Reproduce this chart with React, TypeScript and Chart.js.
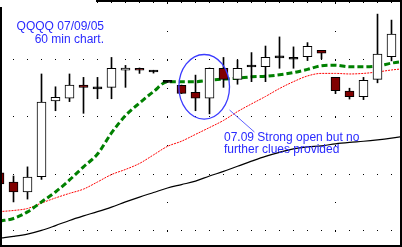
import React, { useEffect, useRef } from "react";
import { Chart, registerables } from "chart.js";

Chart.register(...registerables);

// ---------- data ----------
const BAR_INDEX = [0, 1, 2, 3, 4, 5, 6, 7, 8, 9, 10, 11, 12, 13, 14, 15, 16, 17, 18, 19, 20, 21, 22, 23, 24, 25, 26, 27, 28];
const OPEN = [38.804, 38.772, 38.737, 38.791, 39.056, 39.066, 39.112, 39.102, 39.104, 39.164, 39.171, 39.164, 39.125, 39.111, 39.087, 39.066, 39.171, 39.132, 39.179, 39.177, 39.211, 39.206, 39.212, 39.234, 39.139, 39.091, 39.071, 39.132, 39.212];
const HIGH = [38.811, 38.793, 38.825, 39.151, 39.106, 39.151, 39.139, 39.139, 39.209, 39.181, 39.172, 39.164, 39.126, 39.112, 39.147, 39.172, 39.209, 39.200, 39.226, 39.249, 39.281, 39.246, 39.261, 39.234, 39.139, 39.101, 39.139, 39.361, 39.340];
const LOW = [38.758, 38.702, 38.712, 38.781, 39.022, 39.054, 39.013, 39.064, 39.064, 39.104, 39.153, 39.154, 39.121, 39.082, 39.022, 39.011, 39.104, 39.115, 39.124, 39.124, 39.171, 39.171, 39.198, 39.204, 39.082, 39.063, 39.061, 39.120, 39.197];
const CLOSE = [38.765, 38.737, 38.789, 39.052, 39.069, 39.112, 39.104, 39.102, 39.171, 39.172, 39.164, 39.159, 39.125, 39.083, 39.066, 39.171, 39.132, 39.171, 39.179, 39.209, 39.211, 39.206, 39.248, 39.224, 39.092, 39.071, 39.129, 39.221, 39.291];

const MA_INDEX = [0, 1, 2, 3, 4, 5, 6, 7, 8, 9, 10, 11, 12, 13, 14, 15, 16, 17, 18, 19, 20, 21, 22, 23, 24, 25, 26, 27, 28, 29];
const MA_FAST = [38.635, 38.644, 38.667, 38.702, 38.737, 38.779, 38.825, 38.870, 38.944, 39.005, 39.049, 39.089, 39.124, 39.124, 39.124, 39.129, 39.133, 39.136, 39.141, 39.143, 39.148, 39.156, 39.167, 39.180, 39.182, 39.176, 39.176, 39.179, 39.189, 39.196];
const MA_MID = [38.668, 38.672, 38.679, 38.698, 38.716, 38.732, 38.747, 38.772, 38.798, 38.816, 38.837, 38.867, 38.897, 38.915, 38.939, 38.963, 38.988, 39.019, 39.046, 39.072, 39.100, 39.124, 39.144, 39.153, 39.153, 39.151, 39.153, 39.158, 39.165, 39.170];
const MA_SLOW = [38.575, 38.581, 38.589, 38.602, 38.619, 38.637, 38.653, 38.668, 38.684, 38.702, 38.719, 38.735, 38.751, 38.763, 38.775, 38.793, 38.809, 38.827, 38.845, 38.862, 38.876, 38.888, 38.895, 38.899, 38.906, 38.911, 38.915, 38.920, 38.926, 38.933];

const GRID_PRICES = [38.6, 38.8, 39.0, 39.2, 39.4];
const SESSION_BREAKS = [12, 24];

const TITLE_LINES = ["QQQQ 07/09/05", "60 min chart."];
const NOTE_LINES = ["07.09 Strong open but no", "further clues provided"];

// annotation geometry in data units (index, price)
const ELLIPSE_CENTER = [14.62, 39.106];
const ELLIPSE_RADII = [1.81, 0.1133];
const POINTER_FROM = [16.43, 39.0245];
const POINTER_TO = [18.21, 38.9473];

// ---------- view ----------
const X_MIN = 2.5 / 14;
const X_MAX = 2.5 / 14 + 398 / 14;
const Y_MAX = 39.4 + 0.2 / 57;
const Y_MIN = 39.4 - (242 * 0.2) / 57;
const PX_PER_PRICE = 57 / 0.2;

const TEXT_BLUE = "#2a2aff";

const annotationPlugin = {
  id: "noteMarks",
  afterDraw(chart: any) {
    const { ctx } = chart;
    const xs = chart.scales.x;
    const ys = chart.scales.y;
    ctx.save();
    const cx = xs.getPixelForValue(ELLIPSE_CENTER[0]);
    const cy = ys.getPixelForValue(ELLIPSE_CENTER[1]);
    const rx = Math.abs(xs.getPixelForValue(ELLIPSE_CENTER[0] + ELLIPSE_RADII[0]) - cx);
    const ry = Math.abs(ys.getPixelForValue(ELLIPSE_CENTER[1] + ELLIPSE_RADII[1]) - cy);
    ctx.beginPath();
    ctx.ellipse(cx, cy, rx, ry, 0, 0, Math.PI * 2);
    ctx.strokeStyle = "#3c3cff";
    ctx.lineWidth = 1.3;
    ctx.stroke();
    ctx.beginPath();
    ctx.moveTo(xs.getPixelForValue(POINTER_FROM[0]), ys.getPixelForValue(POINTER_FROM[1]));
    ctx.lineTo(xs.getPixelForValue(POINTER_TO[0]), ys.getPixelForValue(POINTER_TO[1]));
    ctx.strokeStyle = "#6060ff";
    ctx.lineWidth = 1;
    ctx.stroke();
    ctx.restore();
  },
};

export default function App() {
  const ref = useRef<HTMLCanvasElement>(null);

  useEffect(() => {
    const canvas = ref.current;
    if (!canvas) return;

    const dojiHalf = 1 / PX_PER_PRICE;
    const bodies = BAR_INDEX.map((x, i) => {
      const o = OPEN[i];
      const c = CLOSE[i];
      if (Math.abs(o - c) * PX_PER_PRICE < 1.5) {
        const m = (o + c) / 2;
        return { x, y: [m - dojiHalf, m + dojiHalf] };
      }
      return { x, y: [o, c] };
    });
    const bodyColors = BAR_INDEX.map((_, i) => {
      const o = OPEN[i];
      const c = CLOSE[i];
      if (Math.abs(o - c) * PX_PER_PRICE < 1.5) return "#000000";
      return c > o ? "#ffffff" : "#800000";
    });
    const wicks = BAR_INDEX.map((x, i) => ({ x, y: [LOW[i], HIGH[i]] }));

    const chart = new Chart(canvas, {
      type: "bar",
      data: {
        datasets: [
          {
            type: "bar",
            data: bodies as any,
            backgroundColor: bodyColors,
            borderColor: "#000000",
            borderWidth: 1,
            borderSkipped: false,
            barThickness: 9,
            maxBarThickness: 9,
            grouped: false,
            order: 1,
          } as any,
          {
            type: "bar",
            data: wicks as any,
            backgroundColor: "#000000",
            borderWidth: 0,
            barThickness: 1,
            maxBarThickness: 1,
            grouped: false,
            order: 2,
          } as any,
          {
            type: "line",
            data: MA_INDEX.map((x, i) => ({ x, y: MA_FAST[i] })),
            borderColor: "#008000",
            borderWidth: 3,
            borderDash: [6, 3],
            pointRadius: 0,
            cubicInterpolationMode: "monotone",
            order: 3,
          } as any,
          {
            type: "line",
            data: MA_INDEX.map((x, i) => ({ x, y: MA_MID[i] })),
            borderColor: "#ff0000",
            borderWidth: 1,
            borderDash: [2, 1],
            pointRadius: 0,
            cubicInterpolationMode: "monotone",
            order: 4,
          } as any,
          {
            type: "line",
            data: MA_INDEX.map((x, i) => ({ x, y: MA_SLOW[i] })),
            borderColor: "#000000",
            borderWidth: 1.2,
            pointRadius: 0,
            cubicInterpolationMode: "monotone",
            order: 5,
          } as any,
        ],
      },
      options: {
        responsive: false,
        animation: false,
        devicePixelRatio: 1,
        events: [],
        layout: { padding: 0 },
        plugins: {
          legend: { display: false },
          tooltip: { enabled: false },
          title: { display: false },
        },
        scales: {
          x: {
            type: "linear",
            min: X_MIN,
            max: X_MAX,
            offset: false,
            display: true,
            ticks: { display: false },
            grid: { color: "#000000", lineWidth: 1, drawTicks: false, offset: false },
            border: { display: false, dash: [1, 27, 1, 28], dashOffset: 56 },
            afterBuildTicks: (s: any) => {
              s.ticks = SESSION_BREAKS.map((v) => ({ value: v }));
            },
          },
          y: {
            type: "linear",
            min: Y_MIN,
            max: Y_MAX,
            beginAtZero: false,
            display: true,
            ticks: { display: false },
            grid: { color: "#000000", lineWidth: 1, drawTicks: false },
            border: { display: false, dash: [1, 13], dashOffset: 3 },
            afterBuildTicks: (s: any) => {
              s.ticks = GRID_PRICES.map((v) => ({ value: v }));
            },
          },
        } as any,
      },
      plugins: [annotationPlugin],
    });

    return () => chart.destroy();
  }, []);

  return (
    <div
      style={{
        position: "fixed",
        left: 0,
        top: 0,
        width: 402,
        height: 247,
        background: "#ffffff",
        fontFamily: '"Liberation Sans", Arial, sans-serif',
        overflow: "hidden",
      }}
    >
      <div
        style={{
          position: "absolute",
          left: 0,
          top: 0,
          width: 402,
          height: 247,
          border: "2px solid #000000",
          boxSizing: "border-box",
        }}
      >
        <canvas ref={ref} width={398} height={243} style={{ display: "block", width: 398, height: 243 }} />
      </div>
      <div style={{ position: "absolute", left: 0, top: 0, width: 96, height: 7, background: "#ffffff" }} />
      <div
        style={{
          position: "absolute",
          left: 0,
          top: 20,
          width: 104,
          textAlign: "right",
          fontSize: 12,
          lineHeight: "13px",
          color: TEXT_BLUE,
          whiteSpace: "nowrap",
        }}
      >
        {TITLE_LINES.map((l) => (
          <div key={l}>{l}</div>
        ))}
      </div>
      <div
        style={{
          position: "absolute",
          left: 224,
          top: 131,
          fontSize: 12,
          lineHeight: "12px",
          color: TEXT_BLUE,
          whiteSpace: "nowrap",
        }}
      >
        {NOTE_LINES.map((l) => (
          <div key={l}>{l}</div>
        ))}
      </div>
    </div>
  );
}
